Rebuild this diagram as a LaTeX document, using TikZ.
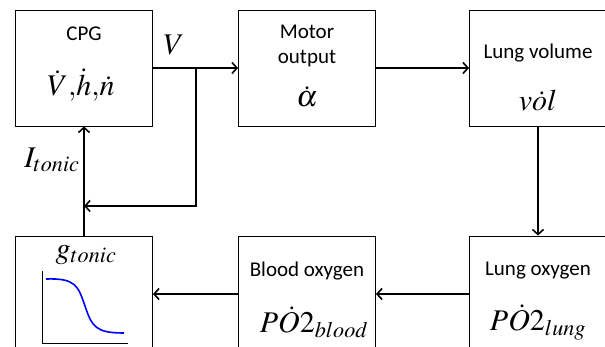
\documentclass[tikz,border=0pt]{standalone}
\usepackage{mathptmx}
\usepackage{fontspec}
\newfontfamily\calib{Carlito}
\usetikzlibrary{arrows.meta}
\tikzset{
  blk/.style={draw=black, line width=0.9pt, minimum width=137pt, minimum height=116pt, inner sep=0pt},
  arr/.style={line width=1.6pt, -{Straight Barb[length=5pt,width=11pt,line width=1.6pt]}},
  lbl/.style={font=\calib\fontsize{21}{25}\selectfont, inner sep=0pt, align=center},
  mth/.style={font=\fontsize{30}{32}\selectfont, inner sep=0pt},
}
\begin{document}
\begin{tikzpicture}[x=1pt,y=-1pt]
\useasboundingbox (0,0) rectangle (605,347);
\clip (0,0) rectangle (605,347);
% boxes
\node[blk] (cpg) at (84,68) {};
\node[blk] (motor) at (307,68) {};
\node[blk] (lv) at (538,68) {};
\node[blk] (gt) at (84,294) {};
\node[blk] (bo) at (307,294) {};
\node[blk] (lo) at (538,294) {};
% texts
\node[lbl] (tcpg) at (84,34) {CPG};
\node[mth] (tv) at (81,85) {$\dot{V},\!\dot{h},\!\dot{n}$};
\node[lbl] (tmot) at (307,46) {Motor\\output};
\node[mth] (ta) at (307,97) {$\dot{\alpha}$};
\node[lbl] (tlv) at (538,53) {Lung volume};
\node[mth] (tvol) at (538,100) {$v\dot{o}l$};
\node[lbl] (tbo) at (307,271) {Blood oxygen};
\node[mth] (tpb) at (314,322) {$P\dot{O}2_{blood}$};
\node[lbl] (tlo) at (538,271) {Lung oxygen};
\node[mth] (tpl) at (538,322) {$P\dot{O}2_{lung}$};
\node[mth] (tg) at (86,255) {$g_{tonic}$};
\node[mth] (tV) at (174,45) {$V$};
\node[mth] (tI) at (52,160) {$I_{tonic}$};
% small graph
\draw[line width=0.8pt] (42,271) -- (42,343) -- (128,343);
\draw[blue, line width=1.6pt] (46,279) .. controls (76,278) and (78,286) .. (85,306) .. controls (92,327) and (96,333) .. (124,333);
% connectors
\coordinate (br) at (196,68);
\coordinate (fb) at (84,206);
\draw[arr] (cpg.east) -- (motor.west);
\draw[arr] (br) -- (br |- fb) -- (fb);
\draw[arr] (gt.north) -- (cpg.south);
\draw[arr] (motor.east) -- (lv.west);
\draw[arr] (lv.south) -- (lo.north);
\draw[arr] (lo.west) -- (bo.east);
\draw[arr] (bo.west) -- (gt.east);
\end{tikzpicture}
\end{document}
